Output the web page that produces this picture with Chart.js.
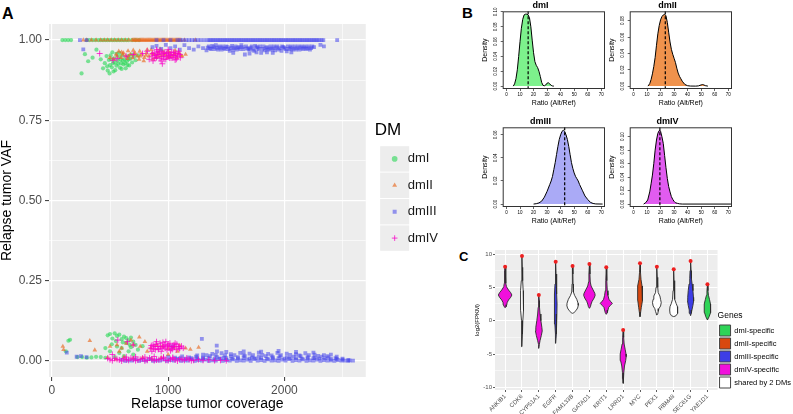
<!DOCTYPE html>
<html>
<head>
<meta charset="utf-8">
<script src="https://cdn.jsdelivr.net/npm/chart.js@4.4.1/dist/chart.umd.min.js"></script>
<style>
body { margin: 0; width: 793px; height: 414px; background: #fff; position: relative; overflow: hidden; font-family: "Liberation Sans", Arial, sans-serif; }
canvas { position: absolute; }
.tag { position: absolute; font-weight: bold; line-height: 1; color: #000; }
</style>
</head>
<body>
<div class="tag" style="left:2px;top:6px;font-size:16px">A</div>
<div class="tag" style="left:462px;top:5px;font-size:15px">B</div>
<div class="tag" style="left:459px;top:250px;font-size:13px">C</div>

<canvas id="scatter" width="448" height="414" style="left:0;top:0"></canvas>
<canvas id="dens1" width="135" height="110" style="left:476px;top:0"></canvas>
<canvas id="dens2" width="135" height="110" style="left:603px;top:0"></canvas>
<canvas id="dens3" width="135" height="112" style="left:476px;top:116px"></canvas>
<canvas id="dens4" width="135" height="112" style="left:603px;top:116px"></canvas>
<canvas id="violin" width="339" height="170" style="left:462px;top:244px"></canvas>

<script>
// ---- panel A : relapse coverage vs VAF ----
const coverageTicks = [0, 500, 1000, 1500, 2000, 2500];
const vafTicks = [0, 0.125, 0.25, 0.375, 0.5, 0.625, 0.75, 0.875, 1];

const dmITop = [[90,1],[115,1],[140,1],[165,1],[300,1],[325,1],[350,1],[375,1],[400,1],[420,1],[440,1],[460,1],[480,1],[500,1],[520,1],[540,1],[560,1],[580,1],[600,1],[620,1],[640,1],[660,1],[690,1],[720,1],[750,1]];
const dmIMid = [[255,0.896],[496,0.896],[440,0.912],[312,0.934],[383,0.97],[284,0.956],[350,0.945],[420,0.94],[455,0.928],[475,0.918],[490,0.938],[505,0.952],[515,0.915],[525,0.928],[535,0.943],[545,0.906],[555,0.92],[565,0.936],[575,0.948],[585,0.914],[595,0.928],[605,0.952],[615,0.924],[625,0.94],[635,0.912],[645,0.934],[655,0.95],[665,0.921],[675,0.942],[690,0.93],[705,0.948],[720,0.937],[740,0.952],[520,0.962],[555,0.957],[480,0.905],[600,0.91],[470,0.95],[500,0.922],[530,0.902],[570,0.926],[610,0.936],[650,0.922],[685,0.955],[580,0.96],[510,0.94],[540,0.93],[590,0.94],[630,0.928],[660,0.94]];
const dmILow = [[142,0.063],[156,0.066],[120,0.03],[220,0.012],[260,0.012],[300,0.01],[340,0.011],[380,0.013],[420,0.012],[460,0.01],[480,0.08],[500,0.084],[520,0.07],[540,0.086],[560,0.078],[580,0.082],[600,0.068],[620,0.076],[640,0.071],[660,0.064],[680,0.073],[700,0.06],[515,0.052],[560,0.045],[600,0.04],[640,0.056],[680,0.043],[720,0.05],[500,0.03],[580,0.025],[660,0.03],[540,0.012],[620,0.015],[700,0.02],[740,0.035],[460,0.04],[780,0.046],[550,0.062],[610,0.058],[670,0.05]];

const dmIITop = [[270,1],[300,1],[340,1],[380,1],[420,1],[450,1],[480,1],[510,1],[540,1],[570,1],[600,1],[630,1],[660,1],[690,1],[710,1],[730,1],[750,1],[770,1],[790,1],[810,1],[830,1],[850,1],[870,1],[890,1],[910,1],[930,1],[950,1],[970,1],[990,1],[1010,1],[1030,1],[1050,1],[1070,1],[1090,1],[1110,1],[1140,1],[1234,1],
  [700,1],[720,1],[740,1],[760,1],[780,1],[800,1],[820,1],[840,1],[860,1],[880,1],[900,1],[920,1],[940,1],[960,1],[980,1],[1000,1],[1020,1],[1040,1],[1060,1],[1080,1],[1100,1]];
const dmIIMid = [[500,0.945],[530,0.94],[553,0.955],[575,0.965],[595,0.945],[615,0.96],[635,0.95],[655,0.966],[675,0.955],[695,0.944],[715,0.96],[735,0.95],[755,0.965],[775,0.955],[795,0.945],[815,0.96],[835,0.95],[855,0.97],[875,0.955],[895,0.945],[915,0.96],[935,0.95],[955,0.965],[975,0.955],[995,0.945],[1015,0.96],[1035,0.95],[1055,0.955],[1075,0.945],[1095,0.96],[1120,0.95],[1150,0.955],[600,0.962],[650,0.942],[700,0.968],[750,0.94],[820,0.97],[870,0.94],[930,0.972],[1000,0.965],[1060,0.968],[790,0.935],
  [560,0.95],[610,0.955],[660,0.95],[710,0.955],[760,0.95],[810,0.952],[860,0.958],[910,0.95],[960,0.955],[1010,0.95],[1060,0.958],[1110,0.952]];
const dmIILow = [[94,0.045],[100,0.035],[326,0.063],[369,0.034],[752,0.074],[1262,0.042],[1191,0.036],[1150,0.04],[500,0.045],[560,0.05],[600,0.04],[640,0.055],[700,0.05],[760,0.045],[800,0.06],[850,0.04],[900,0.05],[950,0.045],[1000,0.038],[1050,0.042],[1100,0.048],[480,0.01],[550,0.005],[620,0.012],[700,0.008],[780,0.01],[860,0.006],[940,0.01],[1000,0.02],[680,0.065],[580,0.03],[820,0.03],[1080,0.03]];

const dmIIITop = [[241,1],[298,1],[900,1],[960,1],[1020,1],[1080,1],[1130,1],[1180,1],[1230,1],[1280,1],[1340,1],[1370,1],[1400,1],[1430,1],[1460,1],[1490,1],[1520,1],[1550,1],[1580,1],[1610,1],[1640,1],[1670,1],[1700,1],[1730,1],[1760,1],[1790,1],[1820,1],[1850,1],[1880,1],[1910,1],[1940,1],[1970,1],[2000,1],[2030,1],[2060,1],[2090,1],[2120,1],[2150,1],[2180,1],[2210,1],[2240,1],[2270,1],[2300,1],[2335,1],[2454,1],
  [1355,1],[1385,1],[1415,1],[1445,1],[1475,1],[1505,1],[1535,1],[1565,1],[1595,1],[1625,1],[1655,1],[1685,1],[1715,1],[1745,1],[1775,1],[1805,1],[1835,1],[1865,1],[1895,1],[1925,1],[1955,1],[1985,1],[2015,1],[2045,1],[2075,1],[2105,1],[2135,1],[2165,1],[2195,1],[2225,1],[2255,1],[2285,1],[2320,1],[1105,1],[1155,1],[1205,1],[1255,1],[1310,1]];
const dmIIIMid = [[270,0.971],[865,0.978],[900,0.982],[940,0.972],[980,0.985],[1020,0.975],[1060,0.98],[1100,0.97],[1140,0.984],[1180,0.975],[1220,0.97],[1260,0.98],[1300,0.975],[1330,0.968],[1350,0.98],[1370,0.972],[1390,0.978],[1410,0.984],[1430,0.97],[1450,0.976],[1470,0.98],[1490,0.972],[1510,0.978],[1530,0.966],[1550,0.982],[1570,0.975],[1590,0.97],[1610,0.978],[1630,0.984],[1660,0.955],[1680,0.975],[1700,0.97],[1720,0.98],[1740,0.966],[1760,0.978],[1780,0.972],[1800,0.96],[1820,0.98],[1840,0.975],[1860,0.97],[1880,0.98],[1900,0.974],[1920,0.968],[1940,0.98],[1960,0.975],[1975,0.966],[1990,0.978],[2010,0.972],[2030,0.98],[2050,0.976],[2070,0.97],[2090,0.98],[2110,0.975],[2130,0.97],[2150,0.98],[2170,0.976],[2190,0.972],[2210,0.98],[2230,0.975],[2255,0.978],[2310,0.985],[2340,0.98],[1650,0.972],[1850,0.962],[2020,0.965],
  [1340,0.976],[1360,0.974],[1380,0.982],[1400,0.972],[1420,0.976],[1440,0.98],[1460,0.97],[1480,0.975],[1500,0.98],[1520,0.972],[1540,0.976],[1560,0.97],[1580,0.98],[1600,0.976],[1620,0.972],[1640,0.978],[1670,0.98],[1690,0.972],[1710,0.976],[1730,0.97],[1750,0.982],[1770,0.976],[1790,0.98],[1810,0.972],[1830,0.968],[1850,0.978],[1870,0.974],[1890,0.97],[1910,0.98],[1930,0.976],[1950,0.97],[1980,0.98],[2000,0.976],[2040,0.972],[2060,0.98],[2080,0.974],[2100,0.97],[2120,0.98],[2140,0.976],[2160,0.972],[2180,0.98],[2200,0.975],[2220,0.97],[2240,0.98],[1700,0.958],[1760,0.962],[1900,0.96],[2060,0.962],[1560,0.96]];
const dmIIILow = [[128,0.026],[213,0.013],[250,0.015],[298,0.012],[1035,0.045],[1290,0.069],[1418,0.048],
  [600,0.004],[660,0.002],[720,0.005],[780,0.003],[840,0.006],[900,0.002],[960,0.004],[1020,0.003],[1080,0.006],[1140,0.002],[1200,0.005],[1260,0.003],[1320,0.004],[1380,0.002],[1440,0.006],[1500,0.003],[1560,0.005],[1620,0.002],[1680,0.004],[1740,0.006],[1800,0.003],[1860,0.005],[1920,0.002],[1980,0.004],[2040,0.006],[2100,0.003],[2160,0.005],[2220,0.002],[2280,0.004],[2340,0.003],[2400,0.002],[2460,0.003],[2520,0.001],[2560,0.002],[2590,0.001],
  [1000,0.012],[1060,0.01],[1120,0.014],[1180,0.011],[1240,0.013],[1300,0.01],[1360,0.015],[1420,0.012],[1480,0.01],[1540,0.014],[1600,0.012],[1660,0.015],[1720,0.011],[1780,0.013],[1840,0.015],[1900,0.012],[1960,0.014],[2020,0.011],[2080,0.013],[2140,0.015],[2200,0.012],[2260,0.01],[2320,0.013],[2380,0.011],[2440,0.009],[2500,0.007],
  [1300,0.02],[1380,0.022],[1460,0.024],[1540,0.021],[1620,0.025],[1700,0.023],[1780,0.026],[1860,0.022],[1940,0.025],[2020,0.023],[2100,0.021],[2180,0.024],[2260,0.02],[2340,0.018],
  [1500,0.028],[1650,0.03],[1800,0.029],[1950,0.031],[2100,0.028],[2250,0.026],[1420,0.03],[2400,0.02],
  [1100,0.008],[1150,0.007],[1200,0.009],[1250,0.007],[1300,0.008],[1350,0.009],[1400,0.007],[1450,0.008],[1500,0.009],[1550,0.007],[1600,0.008],[1650,0.009],[1700,0.007],[1750,0.008],[1800,0.009],[1850,0.007],[1900,0.008],[1950,0.009],[2000,0.007],[2050,0.008],[2100,0.009],[2150,0.007],[2200,0.008],[2250,0.009],[2300,0.007],[2350,0.008],[2400,0.006],[2450,0.006],[2500,0.004],[2550,0.003],
  [1250,0.017],[1330,0.018],[1410,0.019],[1490,0.017],[1570,0.018],[1650,0.019],[1730,0.018],[1810,0.019],[1890,0.017],[1970,0.018],[2050,0.019],[2130,0.017],[2210,0.018],[2290,0.016],[2370,0.015],[2450,0.013],
  [630,0],[690,0.001],[750,0],[810,0.001],[870,0],[930,0.001],[990,0],[1050,0.001],[1110,0],[1170,0.001],[1230,0],[1290,0.001],[1350,0],[1410,0.001],[1470,0],[1530,0.001],[1590,0],[1650,0.001],[1710,0],[1770,0.001],[1830,0],[1890,0.001],[1950,0],[2010,0.001],[2070,0],[2130,0.001],[2190,0],[2250,0.001],[2310,0],[2370,0.001],[2430,0],[2490,0.001],[2550,0]];

const dmIVTop = [[411,0.958],[525,0.937],[560,0.942],[638,0.95],[700,0.955],[780,0.958],[820,0.965],[837,0.94],[860,0.95],[870,0.935],[880,0.96],[890,0.952],[900,0.945],[910,0.965],[920,0.955],[930,0.942],[940,0.965],[950,0.926],[955,0.958],[960,0.95],[970,0.962],[980,0.94],[990,0.948],[1000,0.96],[1010,0.944],[1020,0.955],[1030,0.962],[1040,0.945],[1050,0.952],[1060,0.96],[1070,0.94],[1080,0.95],[1090,0.965],[1100,0.955],[900,0.97],[1000,0.97],[940,0.935],[1060,0.938],
  [865,0.958],[885,0.944],[905,0.955],[925,0.962],[945,0.948],[965,0.94],[985,0.958],[1005,0.952],[1025,0.944],[1045,0.962],[1065,0.95],[1085,0.958],[1105,0.945]];
const dmIVLow = [[567,0.065],[650,0.06],[700,0.05],[520,0.02],[480,0.008],[850,0.04],[870,0.05],[890,0.035],[910,0.045],[930,0.055],[950,0.04],[970,0.05],[990,0.035],[1010,0.045],[1030,0.04],[1050,0.05],[1070,0.035],[1090,0.045],[860,0.03],[900,0.06],[940,0.03],[980,0.06],[1020,0.032],[1060,0.055],[1100,0.04],[880,0.045],[960,0.045],[1040,0.045],[920,0.038],[1000,0.052],
  [855,0.048],[875,0.038],[895,0.052],[915,0.036],[935,0.046],[955,0.058],[975,0.04],[995,0.048],[1015,0.055],[1035,0.036],[1055,0.044],[1075,0.052],[1095,0.038],[1115,0.046],[1130,0.04],
  [500,0.004],[540,0.008],[580,0.003],[620,0.007],[660,0.002],[700,0.006],[740,0.003],[780,0.008],[820,0.002],[860,0.006],[900,0.003],[940,0.007],[980,0.002],[1020,0.005],[1060,0.003],[1100,0.007],[1140,0.002],[1180,0.005],[1220,0.002],[1260,0.004],[1300,0.002],[1350,0.003],[1400,0.001],[1450,0.002],[1500,0.001],[640,0.012],[720,0.013],[800,0.012],[880,0.014],[960,0.012],[1040,0.011],
  [520,0.001],[560,0.005],[600,0],[640,0.004],[680,0.009],[720,0.001],[760,0.005],[800,0],[840,0.009],[880,0.001],[920,0.004],[960,0.009],[1000,0.001],[1040,0.008],[1080,0],[1120,0.005],[1160,0.009],[1200,0.001]];

// ---- panel B : ratio densities ----
const ratioTicks = [0, 10, 20, 30, 40, 50, 60, 70];
const dmIDensity = [[5,0],[6,0.003],[7,0.01],[8,0.022],[9,0.04],[10,0.06],[11,0.078],[12,0.09],[13,0.096],[14,0.097],[15,0.097],[16,0.096],[17,0.092],[18,0.08],[19,0.062],[20,0.045],[21,0.033],[22,0.028],[23,0.025],[24,0.02],[25,0.013],[26,0.005],[27,0.001],[28,0.0005],[29,0.0015],[30,0.004],[31,0.0045],[32,0.003],[33,0.001],[34,0.0002],[35,0]];
const dmIIDensity = [[10.7,0],[12,0.003],[13,0.008],[14,0.015],[15,0.024],[16,0.035],[17,0.05],[18,0.064],[19,0.074],[20,0.081],[21,0.085],[22,0.087],[23,0.088],[24,0.086],[25,0.078],[26,0.066],[27,0.054],[28,0.045],[29,0.039],[30,0.034],[31,0.029],[32,0.022],[33,0.016],[34,0.012],[35,0.009],[36,0.006],[38,0.002],[40,0.0005],[42,0.0001],[46,0],[48,0.0003],[50,0.0015],[51,0.002],[52,0.0015],[53,0.0006],[55,0]];
const dmIIIDensity = [[20,0],[22,0.0003],[24,0.001],[26,0.0025],[28,0.006],[30,0.011],[32,0.017],[33,0.02],[34,0.024],[35,0.03],[36,0.036],[37,0.043],[38,0.05],[39,0.056],[40,0.06],[41,0.063],[42,0.064],[43,0.063],[44,0.06],[45,0.056],[46,0.05],[47,0.043],[48,0.036],[49,0.031],[50,0.027],[51,0.024],[52,0.022],[53,0.02],[54,0.017],[56,0.012],[58,0.007],[60,0.004],[62,0.0015],[64,0.0005],[66,0.0001],[71,0]];
const dmIVDensity = [[7.5,0],[9,0.002],[10.5,0.006],[12,0.018],[13,0.03],[14,0.043],[15,0.06],[16,0.08],[17,0.095],[18,0.105],[19,0.109],[19.5,0.1095],[20,0.108],[21,0.1],[22,0.09],[23,0.072],[24,0.054],[25,0.038],[26,0.026],[27,0.018],[28,0.011],[29,0.007],[30,0.004],[31,0.002],[32.5,0.001],[34,0.0003],[36,0],[72,0]];
const densityMedians = [16, 23.5, 43, 19.5];
const densityTicks = [[0,0.02,0.04,0.06,0.08,0.1],[0,0.02,0.04,0.06,0.08],[0,0.02,0.04,0.06],[0,0.02,0.04,0.06,0.08,0.1]];

// ---- panel C : expression violins ----
const genes = ['ANKIB1','CDK6','CYP51A1','EGFR','FAM133B','GATAD1','KRIT1','LRRD1','MYC','PEX1','RBM48','SEC61G','YAE1D1'];
const geneGroup = ['dmIV','shared','dmIV','dmIII','shared','dmIV','dmIV','dmIV','dmII','shared','shared','dmIII','dmI'];
const geneMax = [8.1, 9.7, 3.85, 8.85, 8.2, 8.5, 8.0, -1.4, 8.6, 8.1, 7.7, 8.95, 5.45];
// [log2 FPKM, half width] from top to bottom
const violinProfiles = [
  [[8.1,0],[7.5,0.03],[6.5,0.04],[5.6,0.05],[5.1,0.08],[4.6,0.2],[4.2,0.33],[3.85,0.4],[3.5,0.33],[3.1,0.2],[2.7,0.12],[2.4,0.1],[2.1,0.06],[1.95,0]],
  [[9.7,0],[8,0.02],[6,0.04],[4.5,0.07],[3,0.1],[1.5,0.08],[0,0.05],[-2,0.03],[-3.9,0]],
  [[3.85,0],[3,0.03],[2,0.04],[1,0.07],[0,0.12],[-1,0.18],[-1.55,0.2],[-2.2,0.15],[-3,0.07],[-3.6,0.03],[-4.15,0]],
  [[8.85,0],[7,0.02],[5.5,0.04],[4,0.07],[2.5,0.08],[1,0.07],[-0.5,0.05],[-2,0.03],[-3.4,0]],
  [[8.2,0],[7,0.02],[5.5,0.03],[4.3,0.05],[3.8,0.12],[3.2,0.25],[2.6,0.33],[2.3,0.34],[1.9,0.3],[1.5,0.2],[1.2,0.08],[1.1,0]],
  [[8.5,0],[7,0.03],[5.8,0.05],[5.2,0.1],[4.6,0.22],[4.1,0.32],[3.8,0.34],[3.4,0.28],[2.9,0.16],[2.5,0.1],[2.1,0.06],[1.85,0]],
  [[8,0],[6,0.03],[4.5,0.06],[3.8,0.1],[3.2,0.16],[2.9,0.25],[2.6,0.36],[2.3,0.25],[2,0.14],[1.6,0.1],[1.2,0.06],[0.95,0]],
  [[-1.4,0],[-2.5,0.03],[-3.5,0.06],[-4.3,0.12],[-5,0.17],[-5.4,0.18],[-6,0.15],[-6.8,0.08],[-7.8,0.04],[-8.7,0.02],[-9.4,0]],
  [[8.6,0],[7.2,0.03],[6.2,0.06],[5.2,0.12],[4.1,0.16],[3,0.13],[2,0.08],[1.3,0.04],[0.6,0]],
  [[8.1,0],[6.5,0.03],[5,0.05],[4.2,0.08],[3.7,0.18],[3.2,0.22],[2.7,0.26],[2.2,0.22],[1.8,0.12],[1.4,0.08],[1,0.05],[0.85,0]],
  [[7.7,0],[6,0.02],[4.5,0.04],[3.2,0.07],[2.6,0.14],[2.1,0.22],[1.6,0.24],[1.1,0.22],[0.75,0.14],[0.6,0]],
  [[8.95,0],[7.5,0.03],[6.3,0.05],[5.5,0.09],[4.5,0.14],[3.5,0.17],[2.95,0.18],[2.3,0.14],[1.6,0.08],[1.1,0.04],[0.75,0]],
  [[5.45,0],[4.5,0.03],[3.8,0.06],[3.2,0.12],[2.5,0.18],[1.85,0.2],[1.2,0.17],[0.6,0.1],[0.1,0]]
];
const groupKeys = ['dmI', 'dmII', 'dmIII', 'dmIV', 'shared'];
const groupLabels = ['dmI-specific', 'dmII-specific', 'dmIII-specific', 'dmIV-specific', 'shared by 2 DMs'];
const groupColors = ['#2fd457', '#d9480f', '#3d3de6', '#f00fdc', '#ffffff'];
const fpkmTicks = [-10, -7.5, -5, -2.5, 0, 2.5, 5, 7.5, 10];

Chart.defaults.font.family = '"Liberation Sans", Arial, sans-serif';
Chart.defaults.animation = false;
Chart.defaults.events = [];

const toXY = pts => pts.map(p => ({ x: p[0], y: p[1] }));

// grey ggplot panel
const panelBg = {
  id: 'panelBg',
  beforeDraw(chart, args, opts) {
    const a = chart.chartArea, ctx = chart.ctx;
    ctx.save();
    ctx.fillStyle = opts.color || '#ededed';
    ctx.fillRect(a.left, a.top, a.right - a.left, a.bottom - a.top);
    ctx.restore();
  }
};

// grey key boxes behind legend symbols
const keyBg = {
  id: 'keyBg',
  beforeDraw(chart, args, opts) {
    const lg = chart.legend;
    if (!lg || !lg.legendHitBoxes) return;
    const ctx = chart.ctx;
    ctx.save();
    ctx.fillStyle = '#ededed';
    lg.legendHitBoxes.forEach(h => {
      const cx = h.left + opts.boxWidth / 2, cy = h.top + opts.fontSize / 2;
      ctx.fillRect(cx - 14.5, cy - 12.7, 29, 25.4);
    });
    ctx.restore();
  }
};

// base R look: frame box and dashed median line
const rFrame = {
  id: 'rFrame',
  afterDatasetsDraw(chart, args, opts) {
    const { ctx, chartArea: a, scales: { x } } = chart;
    const px = x.getPixelForValue(opts.median);
    ctx.save();
    ctx.strokeStyle = '#000';
    ctx.lineWidth = 1.2;
    ctx.setLineDash([3, 2]);
    ctx.beginPath();
    ctx.moveTo(px, a.top);
    ctx.lineTo(px, a.bottom);
    ctx.stroke();
    ctx.setLineDash([]);
    ctx.lineWidth = 1;
    ctx.strokeStyle = '#333';
    ctx.strokeRect(a.left + 0.5, a.top + 0.5, a.right - a.left - 1, a.bottom - a.top - 1);
    ctx.restore();
  }
};

const isMajor = (v, step) => Math.abs(v / step - Math.round(v / step)) < 1e-6;

// ---------- panel A ----------
const dmISet = { label: 'dmI', data: toXY(dmITop.concat(dmIMid, dmILow)), pointStyle: 'circle', pointRadius: 2.1, backgroundColor: 'rgba(40,215,85,0.6)', borderColor: 'rgba(40,215,85,0.6)', borderWidth: 0 };
const dmIISet = { label: 'dmII', data: toXY(dmIITop.concat(dmIIMid, dmIILow)), pointStyle: 'triangle', pointRadius: 2.7, backgroundColor: 'rgba(232,105,30,0.65)', borderColor: 'rgba(232,105,30,0.65)', borderWidth: 0 };
const dmIIISet = { label: 'dmIII', data: toXY(dmIIITop.concat(dmIIIMid, dmIIILow)), pointStyle: 'rect', pointRadius: 2.7, backgroundColor: 'rgba(70,70,235,0.55)', borderColor: 'rgba(70,70,235,0.55)', borderWidth: 0 };
const dmIVSet = { label: 'dmIV', data: toXY(dmIVTop.concat(dmIVLow)), pointStyle: 'cross', pointRadius: 3, backgroundColor: 'rgba(250,0,200,0.75)', borderColor: 'rgba(250,0,200,0.75)', borderWidth: 1 };

new Chart(document.getElementById('scatter'), {
  type: 'scatter',
  data: { datasets: [dmIVSet, dmIIISet, dmIISet, dmISet] },
  options: {
    responsive: false,
    layout: { padding: { top: 24, left: 0, right: 0, bottom: 0 } },
    plugins: {
      tooltip: { enabled: false },
      panelBg: { color: '#ededed' },
      keyBg: { boxWidth: 13, fontSize: 13 },
      legend: {
        position: 'right',
        align: 'start',
        reverse: true,
        labels: { usePointStyle: true, boxHeight: 4, padding: 13.4, color: '#1a1a1a', font: { size: 13 } },
        title: { display: true, text: 'DM', position: 'start', color: '#000', font: { size: 17, lineHeight: 1 }, padding: { top: 98, bottom: 0 } }
      }
    },
    scales: {
      x: {
        type: 'linear', min: -25, max: 2700,
        afterBuildTicks: s => { s.ticks = coverageTicks.map(v => ({ value: v })); },
        afterFit: s => { s.height = 37; },
        ticks: { autoSkip: false, maxRotation: 0, color: '#4d4d4d', font: { size: 12 }, padding: 2, callback: v => isMajor(v, 1000) ? String(v) : '' },
        grid: { color: '#fff', lineWidth: c => isMajor(c.tick.value, 1000) ? 1.2 : 0.6, tickLength: 4, tickWidth: 1, tickColor: c => isMajor(c.tick.value, 1000) ? '#333' : 'rgba(0,0,0,0)' },
        border: { display: false },
        title: { display: true, text: 'Relapse tumor coverage', color: '#000', font: { size: 14 }, padding: { top: 0, bottom: 1 } }
      },
      y: {
        type: 'linear', min: -0.05, max: 1.05,
        afterBuildTicks: s => { s.ticks = vafTicks.map(v => ({ value: v })); },
        afterFit: s => { s.width = 49; },
        ticks: { autoSkip: false, color: '#4d4d4d', font: { size: 12 }, padding: 3, callback: v => isMajor(v, 0.25) ? v.toFixed(2) : '' },
        grid: { color: '#fff', lineWidth: c => isMajor(c.tick.value, 0.25) ? 1.2 : 0.6, tickLength: 4, tickWidth: 1, tickColor: c => isMajor(c.tick.value, 0.25) ? '#333' : 'rgba(0,0,0,0)' },
        border: { display: false },
        title: { display: true, text: 'Relapse tumor VAF', color: '#000', font: { size: 14, lineHeight: 1 }, padding: { top: 0, bottom: 0 } }
      },
      pad: {
        type: 'linear', position: 'right', display: true,
        afterFit: s => { s.width = 9; },
        ticks: { display: false }, grid: { display: false }, border: { display: false }
      }
    }
  },
  plugins: [panelBg, keyBg]
});

// ---------- panel B ----------
function densityChart(id, title, curve, median, yTicks, color) {
  const peak = Math.max(...curve.map(p => p[1]));
  new Chart(document.getElementById(id), {
    type: 'scatter',
    data: {
      datasets: [{ data: toXY(curve), showLine: true, fill: 'origin', backgroundColor: color, borderColor: '#000', borderWidth: 1, pointRadius: 0, tension: 0 }]
    },
    options: {
      responsive: false,
      layout: { padding: { top: 0, right: 6, bottom: 0, left: 0 } },
      plugins: {
        legend: { display: false },
        tooltip: { enabled: false },
        title: { display: true, text: title, color: '#000', font: { size: 9, weight: 'bold', lineHeight: 1.2 }, padding: { top: 0.5, bottom: 0 } },
        rFrame: { median: median }
      },
      scales: {
        x: {
          type: 'linear', min: -2.8, max: 72.8,
          afterBuildTicks: s => { s.ticks = ratioTicks.map(v => ({ value: v })); },
          afterFit: s => { s.height = 21; },
          ticks: { autoSkip: false, maxRotation: 0, color: '#000', font: { size: 4.5 }, padding: 1 },
          grid: { drawOnChartArea: false, tickLength: 2, tickWidth: 0.6, tickColor: '#000' },
          border: { display: false },
          title: { display: true, text: 'Ratio (Alt/Ref)', color: '#000', font: { size: 7 }, padding: { top: 0, bottom: 3 } }
        },
        y: {
          type: 'linear', min: -0.04 * peak, max: 1.04 * peak,
          afterBuildTicks: s => { s.ticks = yTicks.map(v => ({ value: v })); },
          afterFit: s => { s.width = 26.7; },
          ticks: { autoSkip: false, minRotation: 90, maxRotation: 90, crossAlign: 'center', color: '#000', font: { size: 4.5 }, padding: 1, callback: v => v.toFixed(2) },
          grid: { drawOnChartArea: false, tickLength: 2, tickWidth: 0.6, tickColor: '#000' },
          border: { display: false },
          title: { display: true, text: 'Density', color: '#000', font: { size: 7 }, padding: { top: 4.8, bottom: 0 } }
        }
      }
    },
    plugins: [rFrame]
  });
}

densityChart('dens1', 'dmI', dmIDensity, densityMedians[0], densityTicks[0], '#7df18c');
densityChart('dens2', 'dmII', dmIIDensity, densityMedians[1], densityTicks[1], '#f0924c');
densityChart('dens3', 'dmIII', dmIIIDensity, densityMedians[2], densityTicks[2], '#aaaaf6');
densityChart('dens4', 'dmIV', dmIVDensity, densityMedians[3], densityTicks[3], '#e15cf0');

// ---------- panel C ----------
const violinSets = violinProfiles.map((prof, i) => {
  const right = prof.map(p => ({ x: i + p[1], y: p[0] }));
  const left = prof.slice().reverse().map(p => ({ x: i - p[1], y: p[0] }));
  return {
    data: right.concat(left),
    showLine: true,
    fill: 'shape',
    backgroundColor: groupColors[groupKeys.indexOf(geneGroup[i])],
    borderColor: '#2b2b2b',
    borderWidth: 0.9,
    pointRadius: 0,
    tension: 0
  };
});
const maxDots = {
  data: geneMax.map((v, i) => ({ x: i, y: v })),
  pointStyle: 'circle', pointRadius: 2, backgroundColor: '#ee2020', borderWidth: 0
};

new Chart(document.getElementById('violin'), {
  type: 'scatter',
  data: { datasets: [maxDots].concat(violinSets) },
  options: {
    responsive: false,
    layout: { padding: { top: 6, left: 0, right: 0, bottom: 0 } },
    plugins: {
      tooltip: { enabled: false },
      panelBg: { color: '#ededed' },
      legend: {
        position: 'right',
        align: 'start',
        labels: {
          boxWidth: 11, boxHeight: 11, padding: 2, color: '#1a1a1a', font: { size: 7.5 },
          generateLabels: () => groupLabels.map((t, i) => ({ text: t, fillStyle: groupColors[i], strokeStyle: '#444', lineWidth: 1, hidden: false, datasetIndex: i }))
        },
        title: { display: true, text: 'Genes', position: 'start', color: '#000', font: { size: 8.5, lineHeight: 1 }, padding: { top: 61.75, bottom: 2.75 } }
      }
    },
    scales: {
      x: {
        type: 'linear', min: -0.6, max: 12.6,
        afterBuildTicks: s => { s.ticks = genes.map((g, i) => ({ value: i })); },
        afterFit: s => { s.height = 24; },
        ticks: { autoSkip: false, minRotation: 45, maxRotation: 45, color: '#4d4d4d', font: { size: 6 }, padding: 1, callback: v => genes[v] },
        grid: { color: '#fff', lineWidth: 1, tickLength: 2, tickWidth: 0.8, tickColor: '#333' },
        border: { display: false }
      },
      y: {
        type: 'linear', min: -10.4, max: 10.6,
        afterBuildTicks: s => { s.ticks = fpkmTicks.map(v => ({ value: v })); },
        afterFit: s => { s.width = 33; },
        ticks: { autoSkip: false, color: '#4d4d4d', font: { size: 6 }, padding: 1, callback: v => isMajor(v, 5) ? String(v) : '' },
        grid: { color: '#fff', lineWidth: c => isMajor(c.tick.value, 5) ? 1 : 0.5, tickLength: 2, tickWidth: 0.8, tickColor: c => isMajor(c.tick.value, 5) ? '#333' : 'rgba(0,0,0,0)' },
        border: { display: false },
        title: { display: true, text: 'log2(FPKM)', color: '#000', font: { size: 6 }, padding: { top: 11.4, bottom: 0 } }
      }
    }
  },
  plugins: [panelBg]
});
</script>
</body>
</html>
